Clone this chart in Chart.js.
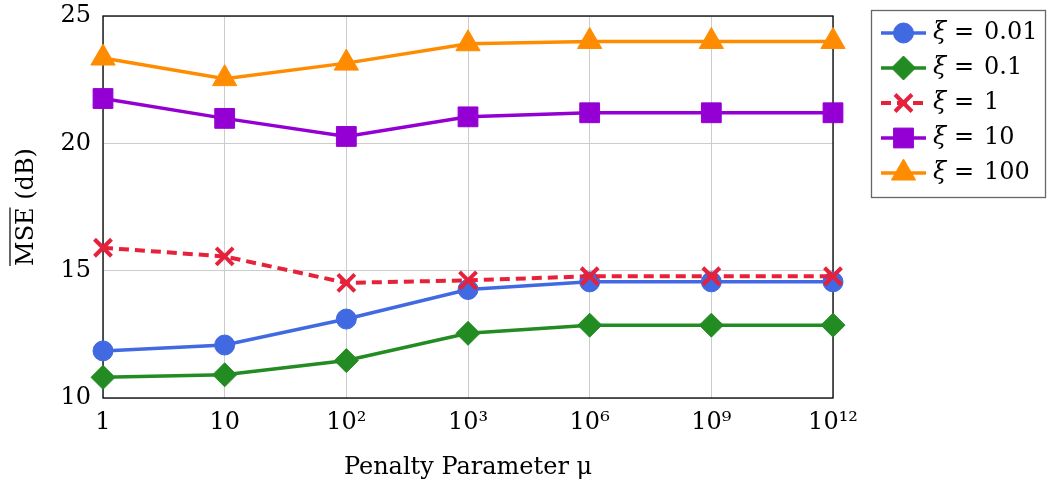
<!DOCTYPE html>
<html lang="en">
<head>
  <meta charset="UTF-8">
  <title>MSE vs Penalty Parameter</title>
  <script src="https://cdn.jsdelivr.net/npm/chart.js"></script>
  <style>
    body {
      margin: 0;
      background: #fff;
    }
    #wrap {
      width: 1047px;
      height: 484px;
    }
  </style>
</head>
<body>
  <div id="wrap"><canvas id="mseChart" width="1047" height="484"></canvas></div>

  <script>
    const penaltyLabels = ['1', '10', '10²', '10³', '10⁶', '10⁹', '10¹²'];
    const yTicks = [10, 15, 20, 25];

    const xiNames = ['0.01', '0.1', '1', '10', '100'];
    const mseXi001 = [11.85, 12.08, 13.10, 14.26, 14.56, 14.56, 14.56];
    const mseXi01  = [10.81, 10.91, 11.47, 12.54, 12.86, 12.86, 12.86];
    const mseXi1   = [15.90, 15.56, 14.52, 14.62, 14.78, 14.78, 14.78];
    const mseXi10  = [21.76, 20.98, 20.27, 21.04, 21.20, 21.20, 21.20];
    const mseXi100 = [23.35, 22.54, 23.15, 23.91, 24.00, 24.00, 24.00];

    const FONT = "'DejaVu Serif', serif";

    const styles = [
      { color: '#4169e1', point: 'circle',   radius: 10, bw: 1, lw: 3.5, dash: [] },
      { color: '#228b22', point: 'rectRot',  radius: 12, bw: 1, lw: 3.5, dash: [] },
      { color: '#e6213b', point: 'crossRot', radius: 12, bw: 4, lw: 4,   dash: [10, 6] },
      { color: '#9400d3', point: 'rect',     radius: 14, bw: 1, lw: 3.5, dash: [] },
      { color: '#ff8c00', point: 'triangle', radius: 14, bw: 1, lw: 3.5, dash: [] }
    ];

    const series = [mseXi001, mseXi01, mseXi1, mseXi10, mseXi100];

    const datasets = series.map((vals, i) => ({
      label: 'ξ = ' + xiNames[i],
      data: vals,
      borderColor: styles[i].color,
      backgroundColor: styles[i].color,
      borderWidth: styles[i].lw,
      borderDash: styles[i].dash,
      pointStyle: styles[i].point,
      pointRadius: styles[i].radius,
      pointBorderWidth: styles[i].bw,
      pointBackgroundColor: styles[i].color,
      pointBorderColor: styles[i].color,
      tension: 0,
      clip: false,
      order: series.length - i
    }));

    // box around the plot area, drawn under the lines
    const frame = {
      id: 'frame',
      beforeDatasetsDraw(chart) {
        const { ctx, chartArea: a } = chart;
        ctx.save();
        ctx.strokeStyle = '#000';
        ctx.lineWidth = 1.3;
        ctx.strokeRect(a.left, a.top, a.right - a.left, a.bottom - a.top);
        ctx.restore();
      }
    };

    // y title with overline on MSE
    const yTitle = {
      id: 'yTitle',
      afterDraw(chart) {
        const { ctx, chartArea: a } = chart;
        ctx.save();
        ctx.translate(33, (a.top + a.bottom) / 2);
        ctx.rotate(-Math.PI / 2);
        ctx.font = '24px ' + FONT;
        ctx.fillStyle = '#000';
        ctx.textBaseline = 'alphabetic';
        const full = 'MSE (dB)';
        const w = ctx.measureText(full).width;
        const wm = ctx.measureText('MSE').width;
        ctx.textAlign = 'left';
        ctx.fillText(full, -w / 2, 0);
        ctx.strokeStyle = '#000';
        ctx.lineWidth = 1.2;
        ctx.beginPath();
        ctx.moveTo(-w / 2, -23);
        ctx.lineTo(-w / 2 + wm, -23);
        ctx.stroke();
        ctx.restore();
      }
    };

    // legend with line + marker samples
    const sideLegend = {
      id: 'sideLegend',
      afterDraw(chart) {
        const ctx = chart.ctx;
        const bx = 871, by = 10, bw = 175, bh = 188;
        ctx.save();
        ctx.fillStyle = '#fff';
        ctx.fillRect(bx, by, bw, bh);
        ctx.strokeStyle = '#666';
        ctx.lineWidth = 1.3;
        ctx.strokeRect(bx + 0.5, by + 0.5, bw - 1, bh - 1);
        chart.data.datasets.forEach((ds, i) => {
          const y = 33 + i * 35;
          ctx.strokeStyle = ds.borderColor;
          ctx.lineWidth = ds.borderWidth;
          ctx.setLineDash(ds.borderDash);
          ctx.beginPath();
          ctx.moveTo(881, y);
          ctx.lineTo(926, y);
          ctx.stroke();
          ctx.setLineDash([]);
          ctx.fillStyle = ds.pointBackgroundColor;
          ctx.strokeStyle = ds.pointBorderColor;
          ctx.lineWidth = ds.pointBorderWidth;
          Chart.helpers.drawPoint(ctx, {
            pointStyle: ds.pointStyle,
            radius: ds.pointRadius,
            rotation: 0,
            borderWidth: ds.pointBorderWidth
          }, 903.5, y);

          ctx.fillStyle = '#000';
          ctx.textBaseline = 'middle';
          ctx.textAlign = 'left';
          ctx.font = 'italic 24px ' + FONT;
          ctx.fillText('ξ', 933, y);
          ctx.font = '24px ' + FONT;
          ctx.fillText('=', 954, y);
          ctx.fillText(xiNames[i], 984, y);
        });
        ctx.restore();
      }
    };

    new Chart(document.getElementById('mseChart'), {
      type: 'line',
      data: { labels: penaltyLabels, datasets },
      plugins: [frame, yTitle, sideLegend],
      options: {
        responsive: false,
        animation: false,
        layout: { padding: { left: 0, top: 14, right: 214, bottom: 0 } },
        plugins: {
          legend: { display: false },
          tooltip: { enabled: false }
        },
        scales: {
          x: {
            offset: false,
            afterFit(scale) { scale.height = 86; },
            grid: { color: '#cccccc', lineWidth: 1, drawTicks: false },
            border: { display: false },
            ticks: {
              color: '#000',
              padding: 10,
              maxRotation: 0,
              font: { family: FONT, size: 24 }
            },
            title: {
              display: true,
              text: 'Penalty Parameter μ',
              color: '#000',
              padding: { top: 0, bottom: 2 },
              font: { family: FONT, size: 24 }
            }
          },
          y: {
            min: 10,
            max: 25,
            afterFit(scale) {
              scale.width = 103;
              scale.paddingTop = 0;
              scale.paddingBottom = 0;
            },
            afterBuildTicks(scale) {
              scale.ticks = yTicks.map(v => ({ value: v }));
            },
            grid: { color: '#cccccc', lineWidth: 1, drawTicks: false },
            border: { display: false },
            ticks: {
              color: '#000',
              padding: 12,
              font: { family: FONT, size: 24 }
            }
          }
        }
      }
    });
  </script>
</body>
</html>
